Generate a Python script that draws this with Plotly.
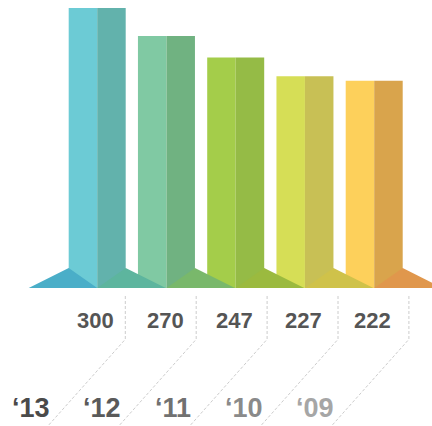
import plotly.graph_objects as go

# ---- data ----
years = ["‘13", "‘12", "‘11", "‘10", "‘09"]
values = [300, 270, 247, 227, 222]
left_colors = ["#6ccbd5", "#80c9a3", "#a4cd4a", "#d6de56", "#fdd05b"]
right_colors = ["#62b2ac", "#70b281", "#95bb46", "#c8c055", "#d9a44c"]
shadow_colors = ["#5db59e", "#79b86b", "#9bba3f", "#cfc24a", "#e0974c"]
first_shadow_color = "#4aaec8"
year_colors = ["#4a4a4a", "#5a5a5a", "#717171", "#8a8a8a", "#a6a6a6"]

# ---- geometry (pixel based helpers) ----
W, H = 432, 426
px_per_x = 69.25          # pixels per category step
x0_px = 97.2              # pixel of category 0 centre
base_px = 288.0           # pixel row of value 0
px_per_y = 280.0 / 300.0  # pixels per value unit

def xd(px):
    return (px - x0_px) / px_per_x

def yd(py):
    return (base_px - py) / px_per_y

half = 28.5 / px_per_x
sx = 40 / px_per_x
sy = 20 / px_per_y

xs = list(range(len(values)))

fig = go.Figure()
fig.add_trace(go.Bar(x=xs, y=values, width=half, offset=-half,
                     marker=dict(color=left_colors, line=dict(width=0)),
                     hoverinfo="skip", showlegend=False))
fig.add_trace(go.Bar(x=xs, y=values, width=half, offset=0,
                     marker=dict(color=right_colors, line=dict(width=0)),
                     hoverinfo="skip", showlegend=False))

shapes = []
# left shadow of first bar
xl = xs[0] - half
shapes.append(dict(type="path", xref="x", yref="y",
                   path=f"M {xl - sx} 0 L {xl} {sy} L {xs[0]} 0 Z",
                   fillcolor=first_shadow_color, line=dict(width=0), layer="above"))
for i, c in zip(xs, shadow_colors):
    xr = i + half
    shapes.append(dict(type="path", xref="x", yref="y",
                       path=f"M {i} 0 L {xr} {sy} L {xr + sx} 0 Z",
                       fillcolor=c, line=dict(width=0), layer="above"))

# dashed guide lines
for i in xs:
    px = 125.3 + 70.9 * i
    top, knee, bot = 296, 339.3, 432
    bx = px - (bot - knee) * 75 / 84
    shapes.append(dict(type="path", xref="x", yref="y",
                       path=f"M {xd(px)} {yd(top)} L {xd(px)} {yd(knee)} L {xd(bx)} {yd(bot)}",
                       line=dict(color="#cccccc", width=1, dash="3px,2px")))

annotations = []
for i, v in zip(xs, values):
    annotations.append(dict(x=i - 0.02, y=yd(320), xref="x", yref="y", text=str(v),
                            showarrow=False, xanchor="center", yanchor="middle",
                            font=dict(family="Liberation Sans, Arial", size=22, color="#555555", weight="bold")))
for i, (t, c) in enumerate(zip(years, year_colors)):
    px = 30.5 + 71 * i
    annotations.append(dict(x=xd(px), y=yd(408), xref="x", yref="y", text=t,
                            showarrow=False, xanchor="center", yanchor="middle",
                            font=dict(family="Liberation Sans, Arial", size=27, color=c, weight="bold")))

fig.update_layout(
    width=W, height=H,
    margin=dict(l=0, r=0, t=0, b=0),
    paper_bgcolor="white", plot_bgcolor="white",
    barmode="overlay",
    shapes=shapes, annotations=annotations,
    xaxis=dict(range=[xd(0), xd(W)], visible=False, fixedrange=True),
    yaxis=dict(range=[yd(H), yd(0)], visible=False, fixedrange=True),
)

fig.write_html("out.html")
